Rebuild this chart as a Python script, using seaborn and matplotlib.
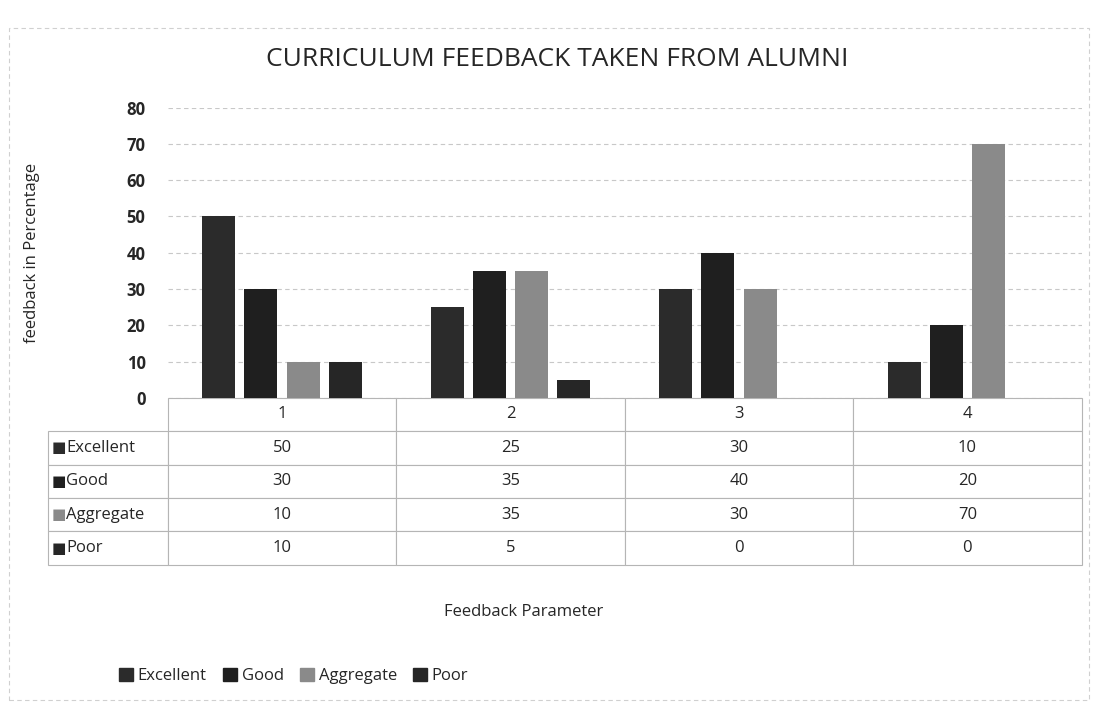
import pandas as pd
import seaborn as sns
import matplotlib
import matplotlib.pyplot as plt
from matplotlib.patches import Rectangle

matplotlib.use("Agg")

params = ["1", "2", "3", "4"]
excellent = [50, 25, 30, 10]
good = [30, 35, 40, 20]
aggregate = [10, 35, 30, 70]
poor = [10, 5, 0, 0]
series_names = ["Excellent", "Good", "Aggregate", "Poor"]
series_colors = ["#2b2b2b", "#1f1f1f", "#8a8a8a", "#262626"]

df = pd.DataFrame({
    "param": params * 4,
    "series": [s for s in series_names for _ in params],
    "value": excellent + good + aggregate + poor,
})

sns.set_style("white")
plt.rcParams["font.family"] = ["Open Sans", "DejaVu Sans"]

fig = plt.figure(figsize=(10.97, 7.04), dpi=100)
ax = fig.add_axes([0.153, 0.435, 0.833, 0.412])

sns.barplot(data=df, x="param", y="value", hue="series", hue_order=series_names,
            palette=series_colors, width=0.74, gap=0.22, ax=ax, legend=False,
            edgecolor="none")

ax.set_ylim(0, 80)
ax.set_yticks(range(0, 81, 10))
ax.tick_params(axis="y", labelsize=12, length=0, pad=16)
for t in ax.get_yticklabels():
    t.set_fontweight("bold")
ax.set_xticks([])
ax.set_xlabel("")
ax.set_ylabel("feedback in Percentage", fontsize=12, labelpad=62)
ax.yaxis.grid(True, color="#c8c8c8", linestyle=(0, (4, 3)), linewidth=0.8)
ax.set_axisbelow(True)
for s in ax.spines.values():
    s.set_visible(False)

# data table under the plot
rows = [[""] + params]
for name, vals in zip(series_names, [excellent, good, aggregate, poor]):
    rows.append([""] + [str(v) for v in vals])
tbl = ax.table(cellText=rows, colWidths=[120, 229, 229, 229, 229],
               cellLoc="center", bbox=[-0.131, -0.576, 1.131, 0.576])
tbl.auto_set_font_size(False)
tbl.set_fontsize(12)
for (r, c), cell in tbl.get_celld().items():
    cell.set_edgecolor("#b5b5b5")
    cell.set_linewidth(0.8)
    if r == 0 and c == 0:
        cell.visible_edges = ""

row_h = 0.576 / 5
for i, (name, col) in enumerate(zip(series_names, series_colors)):
    y = -row_h * (i + 1.5)
    ax.text(-0.127, y, "■", color=col, fontsize=11, va="center", ha="left",
            transform=ax.transAxes, family="DejaVu Sans")
    ax.text(-0.111, y, name, fontsize=12, va="center", ha="left",
            transform=ax.transAxes)

fig.text(0.508, 0.915, "CURRICULUM FEEDBACK TAKEN FROM ALUMNI", ha="center",
         va="center", fontsize=19)
fig.text(0.477, 0.13, "Feedback Parameter", ha="center", va="center", fontsize=12)

handles = [Rectangle((0, 0), 1, 1, color=c) for c in series_colors]
fig.legend(handles, series_names, loc="center left", bbox_to_anchor=(0.095, 0.04),
           ncol=4, frameon=False, fontsize=12, handlelength=0.8, handleheight=0.8,
           handletextpad=0.3, columnspacing=1.0)

# faint outer frame of the chart
fig.add_artist(Rectangle((0.008, 0.005), 0.985, 0.955, transform=fig.transFigure,
                         fill=False, edgecolor="#d0d0d0", linewidth=0.8,
                         linestyle=(0, (4, 3))))

fig.savefig("out.png", dpi=100)
